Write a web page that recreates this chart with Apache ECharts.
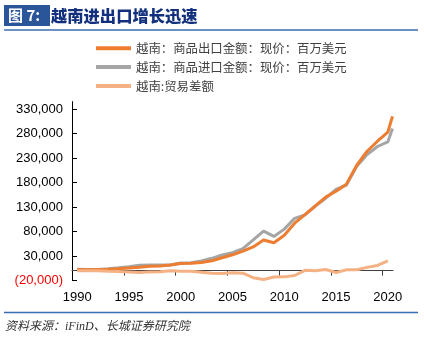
<!DOCTYPE html>
<html><head><meta charset="utf-8">
<script src="https://cdn.jsdelivr.net/npm/echarts@6/dist/echarts.min.js"></script>
<style>html,body{margin:0;padding:0;background:#fff}#c{width:424px;height:338px}</style>
</head><body><div id="c"></div>
<script>
const years = [1990,1991,1992,1993,1994,1995,1996,1997,1998,1999,2000,2001,2002,2003,2004,2005,2006,2007,2008,2009,2010,2011,2012,2013,2014,2015,2016,2017,2018,2019,2020];
const exportsV = [2404,2087,2581,2985,4054,5449,7256,9185,9361,11540,14483,15029,16706,20149,26485,32447,39826,48561,62685,57096,72237,96906,114529,132033,150217,162017,176581,215119,243697,264189,282629];
const importsV = [2752,2338,2541,3924,5826,8155,11144,11592,11500,11742,15637,16218,19746,25256,31969,36761,44891,62765,80714,69949,84839,106750,113780,132033,147849,165776,174804,213215,236869,253393,262691];
const balanceV = [-348,-251,40,-939,-1772,-2706,-3888,-2407,-2139,-202,-1154,-1189,-3040,-5107,-5484,-4314,-5065,-14204,-18029,-12853,-12602,-9844,749,0,2368,-3759,1777,1904,6828,10796,19938];
// final partial reading drawn at the right edge of the chart
const tailX = 2020.45;
const exportsTail = 315000;
const importsTail = 290000;
const yTicks = [-20000,30000,80000,130000,180000,230000,280000,330000];
const xLabels = [1990,1995,2000,2005,2010,2015,2020];
const xTicks = [1994.5,1999.5,2004.5,2009.5,2014.5,2019.5];
const names = ['越南：商品出口金额：现价：百万美元','越南：商品进口金额：现价：百万美元','越南:贸易差额'];

const pairs = (xs, vs) => xs.map((x, i) => [x, vs[i]]);
const fmt = v => Math.abs(v).toString().replace(/\B(?=(\d{3})+(?!\d))/g, ',');

const chart = echarts.init(document.getElementById('c'));
chart.setOption({
  animation: false,
  grid: {left: 72, right: 31, top: 101.6, bottom: 57.5, containLabel: false},
  legend: {
    orient: 'vertical', left: 91, top: 37, itemWidth: 35, itemHeight: 14, itemGap: 6.5,
    icon: 'path://M0,0 L35,0 L35,4 L0,4 Z',
    data: names,
    textStyle: {fontSize: 12.4, color: '#404040', fontFamily: 'Noto Sans CJK SC'}
  },
  xAxis: [
    {type: 'value', min: 1989.5, max: 2020.5, position: 'bottom',
     axisLine: {show: false, onZero: false}, axisTick: {show: false}, splitLine: {show: false},
     axisLabel: {customValues: xLabels, margin: 10, fontSize: 13, color: '#000', fontFamily: 'Liberation Sans',
       formatter: v => String(Math.round(v))}},
    {type: 'value', min: 1989.5, max: 2020.5,
     axisLine: {show: true, onZero: true, lineStyle: {color: '#404040', width: 1}},
     axisTick: {show: true, inside: true, length: 5, customValues: xTicks, lineStyle: {color: '#404040'}},
     axisLabel: {show: false}, splitLine: {show: false}}
  ],
  yAxis: {
    type: 'value', min: -20000, max: 345000,
    axisLine: {show: true, lineStyle: {color: '#000', width: 1}},
    axisTick: {show: true, inside: true, length: 5, customValues: yTicks, lineStyle: {color: '#000'}},
    splitLine: {show: false},
    axisLabel: {customValues: yTicks, margin: 9, fontSize: 13, fontFamily: 'Liberation Sans',
      formatter: v => v < 0 ? '(' + fmt(v) + ')' : fmt(v),
      color: v => (Number(v) < 0 ? '#ff0000' : '#000')}
  },
  series: [
    {name: names[1], type: 'line', xAxisIndex: 1, showSymbol: false, symbol: 'none',
     data: pairs(years, importsV).concat([[tailX, importsTail]]),
     lineStyle: {color: '#A5A5A5', width: 3}, itemStyle: {color: '#A5A5A5'}},
    {name: names[0], type: 'line', xAxisIndex: 1, showSymbol: false, symbol: 'none',
     data: pairs(years, exportsV).concat([[tailX, exportsTail]]),
     lineStyle: {color: '#ED7D31', width: 3}, itemStyle: {color: '#ED7D31'}},
    {name: names[2], type: 'line', xAxisIndex: 1, showSymbol: false, symbol: 'none',
     data: pairs(years, balanceV),
     lineStyle: {color: '#F4B183', width: 3}, itemStyle: {color: '#F4B183'}}
  ],
  graphic: [
    {type: 'rect', shape: {x: 4, y: 5, width: 46, height: 21}, style: {fill: '#2A5699'}},
    {type: 'text', x: 8, y: 15.5, style: {text: '图 7:', fill: '#fff', font: 'bold 15px "Noto Sans CJK SC"', textVerticalAlign: 'middle'}},
    {type: 'text', x: 51, y: 15.5, style: {text: '越南进出口增长迅速', fill: '#12307E', font: '900 16.3px "Noto Sans CJK SC"', textVerticalAlign: 'middle'}},
    {type: 'line', shape: {x1: 4, y1: 30, x2: 418, y2: 30}, style: {stroke: '#3A6CB4', lineWidth: 1.5}},
    {type: 'line', shape: {x1: 4, y1: 312.5, x2: 418, y2: 312.5}, style: {stroke: '#3A6CB4', lineWidth: 1.5}},
    {type: 'text', x: 5, y: 327, style: {text: '资料来源：iFinD、长城证券研究院', fill: '#333', font: 'italic 12px "Liberation Serif", "Noto Sans CJK SC"', textVerticalAlign: 'middle'}}
  ]
});
</script></body></html>
